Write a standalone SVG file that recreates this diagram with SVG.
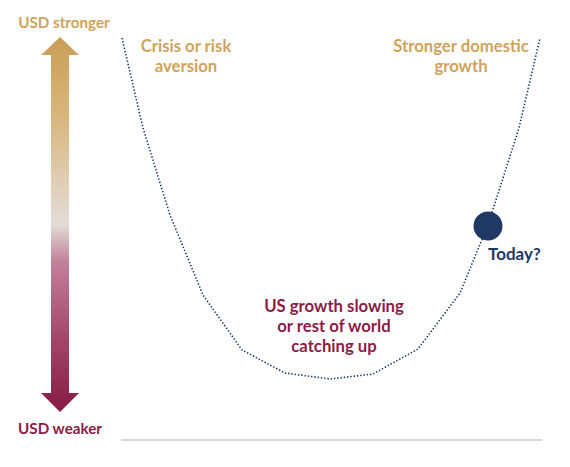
<svg xmlns="http://www.w3.org/2000/svg" width="570" height="467" viewBox="0 0 570 467">
<style>
text{font-family:Lato,"Open Sans","Liberation Sans",sans-serif;font-weight:700}
.tan{fill:#CFA35A}
.mar{fill:#8B1B47}
.navy{fill:#1F3864}
.lbl{font-size:16.7px;text-anchor:middle}
.ax{font-size:15.2px;text-anchor:middle}
.curve{fill:none;stroke:#1F3864;stroke-width:1.6;stroke-dasharray:1.4 1.9}
</style>
<defs>
<linearGradient id="g" x1="0" y1="37" x2="0" y2="412" gradientUnits="userSpaceOnUse">
<stop offset="0" stop-color="#C99E55"/>
<stop offset="0.2" stop-color="#D8B579"/>
<stop offset="0.5" stop-color="#E2DDD8"/>
<stop offset="0.6" stop-color="#C2819A"/>
<stop offset="0.8" stop-color="#A4476B"/>
<stop offset="1" stop-color="#861A43"/>
</linearGradient>
</defs>
<g id="axis-arrow">
<path d="M60,37 L79,55 L69,55 L69,393 L79,393 L60,412 L41,393 L51,393 L51,55 L41,55 Z" fill="url(#g)"/>
</g>
<g id="label-stronger"><text class="ax tan" x="64" y="28">USD stronger</text></g>
<g id="label-weaker"><text class="ax mar" x="60" y="434">USD weaker</text></g>
<g id="baseline"><line x1="121" y1="440" x2="542" y2="440" stroke="#D9D9D9" stroke-width="2"/></g>
<g id="connectors">
<polyline class="curve" points="122,38 143,128 170,215 203,295 242,350 285,373 330,379 373,374 418,349 460,293 488,225 519,128 540,38"/>
</g>
<g id="crisis"><text class="lbl tan" x="186" y="52">Crisis or risk<tspan x="186" dy="20">aversion</tspan></text></g>
<g id="domestic"><text class="lbl tan" x="461" y="52">Stronger domestic<tspan x="461" dy="20">growth</tspan></text></g>
<g id="slowing"><text class="lbl mar" x="334" y="312">US growth slowing<tspan x="334" dy="20">or rest of world</tspan><tspan x="334" dy="20">catching up</tspan></text></g>
<g id="today">
<circle cx="488" cy="226" r="14.5" fill="#1F3864"/>
<text class="navy" x="488" y="260" font-size="17">Today?</text>
</g>
</svg>
